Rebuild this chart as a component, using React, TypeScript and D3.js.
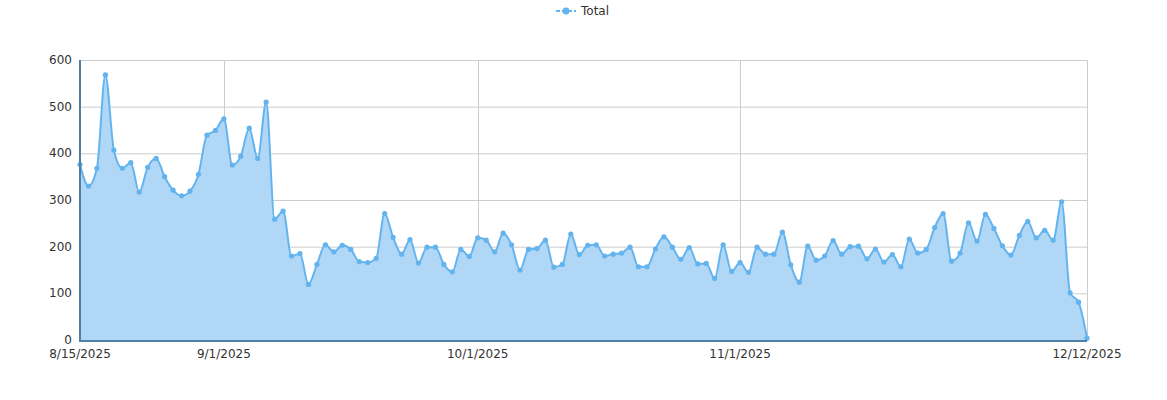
import React from "react";
import * as d3 from "d3";

const startDate = "2025-08-15";
const totals: number[] = [
  // Aug 15 - Aug 31
  376, 330, 368, 568, 407, 368, 380, 317, 370, 389, 350, 321, 309, 319, 355, 439, 449,
  // Sep
  474, 375, 394, 454, 389, 510, 259, 276, 180, 185, 119, 162, 204, 189, 203, 194, 168, 166, 175, 271,
  220, 184, 215, 165, 199, 199, 162, 146, 194, 179,
  // Oct
  219, 214, 189, 229, 204, 150, 194, 196, 214, 156, 162, 227, 183, 203, 204, 180, 184, 186, 199, 157,
  157, 195, 221, 199, 173, 198, 163, 164, 132, 204, 147,
  // Nov
  166, 145, 199, 184, 184, 231, 161, 124, 201, 171, 180, 213, 184, 200, 201, 174, 195, 167, 183, 157,
  216, 186, 194, 241, 271, 169, 186, 251, 212, 269,
  // Dec
  239, 202, 182, 224, 254, 219, 235, 214, 296, 101, 81, 4,
];
const xTickLabels = ["8/15/2025", "9/1/2025", "10/1/2025", "11/1/2025", "12/12/2025"];
const xTickDates = ["2025-08-15", "2025-09-01", "2025-10-01", "2025-11-01", "2025-12-12"];
const yTicks = [0, 100, 200, 300, 400, 500, 600];
const seriesName = "Total";

const W = 1167;
const H = 400;
const M = { left: 80, right: 1087, top: 60, bottom: 341 };
const LINE = "#63b4ee";
const FILL = "#b1d7f7";
const AXIS = "#4f7fa6";
const GRID = "#cccccc";
const FONT = "'DejaVu Sans', Verdana, sans-serif";

const parse = d3.utcParse("%Y-%m-%d");

export default function App() {
  const start = parse(startDate)!;
  const data = totals.map((v, i) => ({ date: d3.utcDay.offset(start, i), v }));
  const x = d3
    .scaleUtc()
    .domain([start, data[data.length - 1].date])
    .range([M.left, M.right]);
  const y = d3.scaleLinear().domain([0, 600]).range([M.bottom - 1, M.top]);

  const area = d3
    .area<{ date: Date; v: number }>()
    .x((d) => x(d.date))
    .y0(y(0))
    .y1((d) => y(d.v))
    .curve(d3.curveMonotoneX);
  const line = d3
    .line<{ date: Date; v: number }>()
    .x((d) => x(d.date))
    .y((d) => y(d.v))
    .curve(d3.curveMonotoneX);

  const tickDates = xTickDates.map((s) => parse(s)!);

  return (
    <svg
      width={W}
      height={H}
      style={{ position: "absolute", left: 0, top: 0, display: "block" }}
      fontFamily={FONT}
    >
      <rect x={0} y={0} width={W} height={H} fill="#fff" />
      {/* horizontal grid */}
      {yTicks.map((t) => (
        <line key={t} x1={M.left} x2={M.right} y1={y(t) + 0.5} y2={y(t) + 0.5} stroke={GRID} strokeWidth={1} />
      ))}
      {/* vertical grid */}
      {tickDates.map((d, i) => (
        <line key={i} x1={Math.round(x(d)) + 0.5} x2={Math.round(x(d)) + 0.5} y1={M.top} y2={M.bottom} stroke={GRID} strokeWidth={1} />
      ))}
      <path d={area(data)!} fill={FILL} />
      <path d={line(data)!} fill="none" stroke={LINE} strokeWidth={2} />
      {data.map((d, i) => (
        <circle key={i} cx={x(d.date)} cy={y(d.v)} r={2.6} fill={LINE} />
      ))}
      {/* axes */}
      <line x1={M.left} x2={M.left} y1={M.top} y2={M.bottom + 1} stroke={AXIS} strokeWidth={2} />
      <line x1={M.left} x2={M.right} y1={M.bottom} y2={M.bottom} stroke={AXIS} strokeWidth={2} />
      {/* y labels */}
      {yTicks.map((t) => (
        <text key={t} x={72} y={y(t) + 4} textAnchor="end" fontSize={12} fill="#333">
          {t}
        </text>
      ))}
      {/* x labels */}
      {tickDates.map((d, i) => (
        <text key={i} x={x(d)} y={358} textAnchor="middle" fontSize={12} fill="#333">
          {xTickLabels[i]}
        </text>
      ))}
      {/* legend */}
      <g>
        <line x1={556} x2={576} y1={11} y2={11} stroke={LINE} strokeWidth={2} strokeDasharray="4,2" />
        <circle cx={566} cy={11} r={3.5} fill={LINE} />
        <text x={581} y={15} fontSize={12} fill="#333">
          {seriesName}
        </text>
      </g>
    </svg>
  );
}
